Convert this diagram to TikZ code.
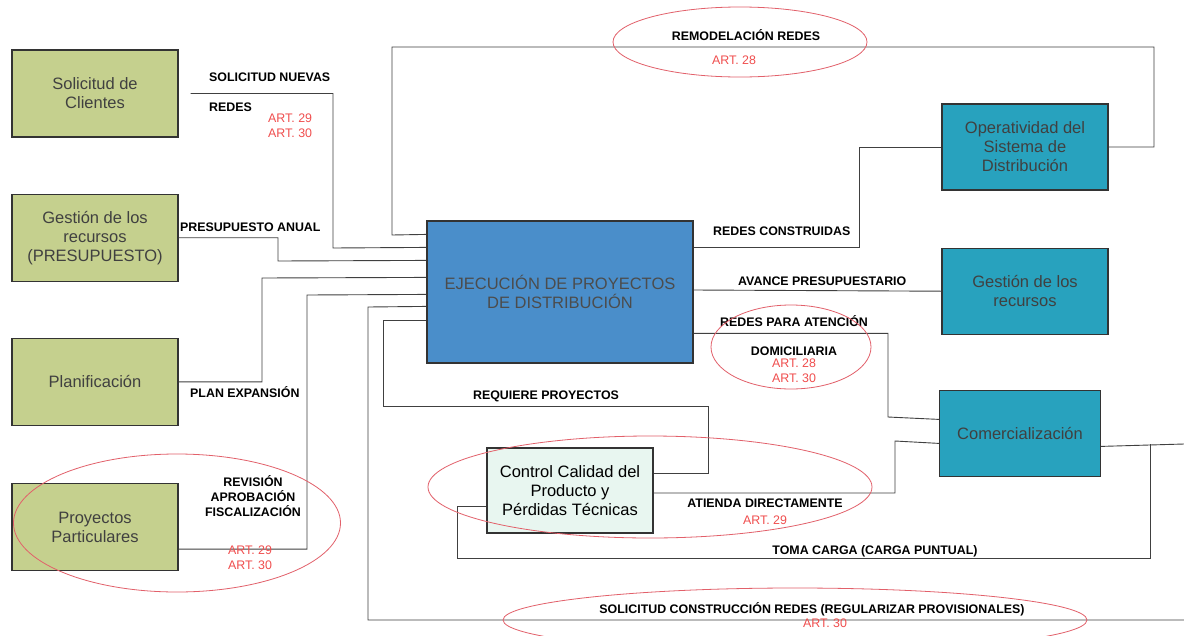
\documentclass[tikz,border=0pt]{standalone}
\usepackage{fontspec}
\setmainfont{Liberation Sans}
\usetikzlibrary{positioning, shapes.geometric}
\definecolor{olivebox}{RGB}{197,208,142}
\definecolor{bluebox}{RGB}{74,142,202}
\definecolor{tealbox}{RGB}{40,162,190}
\definecolor{mintbox}{RGB}{232,246,240}
\definecolor{artred}{RGB}{240,78,78}
\definecolor{ringred}{RGB}{226,96,106}

\begin{document}
\begin{tikzpicture}[x=1pt, y=-1pt,
    box/.style={rectangle, draw=black!80, line width=1.2pt,
                minimum width=166pt, minimum height=87pt, inner sep=2pt,
                font=\fontsize{16.5}{19}\selectfont, align=center, text=black!75},
    wire/.style={draw=black!75, line width=0.9pt},
    lbl/.style={font=\fontsize{12.4}{15}\selectfont\bfseries, inner sep=0pt, align=center},
    art/.style={font=\fontsize{12.4}{15}\selectfont, text=artred, inner sep=0pt, align=left},
    ring/.style={ellipse, draw=ringred, line width=0.8pt, inner sep=0pt},
]
\clip (0,0) rectangle (1184,635);
\fill[white] (0,0) rectangle (1184,635);

% left column
\node[box, fill=olivebox] (clientes) at (95,93.5) {Solicitud de\\Clientes};
\node[box, fill=olivebox, below=56pt of clientes] (gest) {Gestión de los\\recursos\\(PRESUPUESTO)};
\node[box, fill=olivebox, below=56pt of gest] (plan) {Planificación};
\node[box, fill=olivebox, below=57pt of plan] (proy) {Proyectos\\Particulares};

% centre
\node[box, fill=bluebox, minimum width=266pt, minimum height=142pt, text=black!70]
     (ejec) at (560,292) {EJECUCIÓN DE PROYECTOS\\DE DISTRIBUCIÓN};
\node[box, fill=mintbox, minimum height=85pt, text=black]
     (ctrl) at (570,490.5) {Control Calidad del\\Producto y\\Pérdidas Técnicas};

% right column
\node[box, fill=tealbox, minimum height=86pt] (oper) at (1025,147) {Operatividad del\\Sistema de\\Distribución};
\node[box, fill=tealbox, minimum height=86pt, below=57pt of oper] (gesr) {Gestión de los\\recursos};
\node[box, fill=tealbox, minimum width=161pt, minimum height=86pt,
      below=55pt of gesr, xshift=-5pt] (com) {Comercialización};

% entry / exit points on the main box
\coordinate (in1) at ([yshift=-14pt]ejec.north west);
\coordinate (in2) at ([yshift=-27pt]ejec.north west);
\coordinate (in3) at ([yshift=-40pt]ejec.north west);
\coordinate (in4) at ([yshift=-57pt]ejec.north west);
\coordinate (in5) at ([yshift=-74pt]ejec.north west);
\coordinate (in6) at ([yshift=-86pt]ejec.north west);
\coordinate (in7) at ([yshift=-100pt]ejec.north west);
\coordinate (out1) at ([yshift=-27pt]ejec.north east);
\coordinate (out2) at ([yshift=2pt]ejec.east);
\coordinate (out3) at ([yshift=-113pt]ejec.north east);
\coordinate (edgeS) at (1184,620);
\coordinate (edgeE) at (1184,444);
\coordinate (tap) at (1150,444);

% REMODELACION REDES
\draw[wire] (oper.east) -| (1154,47) -| (392,235) -- (in1);
% SOLICITUD NUEVAS REDES
\draw[wire] ([xshift=12pt]clientes.east) -| (333,248) -- (in2);
% PRESUPUESTO ANUAL
\draw[wire] (gest.east) -| (278,261) -- (in3);
% PLAN EXPANSION
\draw[wire] (plan.east) -| (262,278) -- (in4);
% REVISION / APROBACION / FISCALIZACION
\draw[wire] ([yshift=-22pt]proy.east) -| (307,295) -- (in5);
% SOLICITUD CONSTRUCCION REDES
\draw[wire] (edgeS) -| (368,307) -- (in6);
% REQUIERE PROYECTOS
\draw[wire] (in7) -| (383,406) -| (708,473) -- ([yshift=17.5pt]ctrl.east);
% REDES CONSTRUIDAS
\draw[wire] (out1) -| (859,147) -- (oper.west);
% AVANCE PRESUPUESTARIO
\draw[wire] (out2) -- (gesr.west);
% REDES PARA ATENCION DOMICILIARIA
\draw[wire] (out3) -| (888,417) -- ([yshift=14pt]com.west);
% ATIENDA DIRECTAMENTE
\draw[wire] ([yshift=-2.5pt]ctrl.east) -| (895,441) -- ([yshift=-10pt]com.west);
% TOMA CARGA
\draw[wire] ([yshift=-13pt]com.east) -- (edgeE);
\draw[wire] (tap) |- (457,558) |- ([yshift=-15.5pt]ctrl.west);

% labels
\node[lbl, anchor=west] (lsol) at (209,77) {SOLICITUD NUEVAS};
\node[lbl, anchor=west] (lred) at (209,107) {REDES};
\node[art, anchor=west] (a1) at (268,125.5) {ART. 29\\ART. 30};
\node[lbl, anchor=west] (lpre) at (180,227) {PRESUPUESTO ANUAL};
\node[lbl, anchor=west] (lplan) at (190,392) {PLAN EXPANSIÓN};
\node[lbl] (lrev) at (253,496) {REVISIÓN\\APROBACIÓN\\FISCALIZACIÓN};
\node[art] (a2) at (250,557.5) {ART. 29\\ART. 30};
\node[lbl] (lrem) at (746,35) {REMODELACIÓN REDES};
\node[art] (a3) at (734,60) {ART. 28};
\node[lbl, anchor=west] (lcon) at (713,231) {REDES CONSTRUIDAS};
\node[lbl, anchor=west] (lava) at (738,281) {AVANCE PRESUPUESTARIO};
\node[lbl, anchor=west] (late) at (720,321) {REDES PARA ATENCIÓN};
\node[lbl] (ldom) at (794,351) {DOMICILIARIA};
\node[art] (a4) at (794,370.5) {ART. 28\\ART. 30};
\node[lbl] (lreq) at (546,396) {REQUIERE PROYECTOS};
\node[lbl] (ldir) at (765,503) {ATIENDA DIRECTAMENTE};
\node[art] (a5) at (765,520) {ART. 29};
\node[lbl] (ltoma) at (875,551) {TOMA CARGA (CARGA PUNTUAL)};
\node[lbl] (lreg) at (812,609) {SOLICITUD CONSTRUCCIÓN REDES (REGULARIZAR PROVISIONALES)};
\node[art] (a6) at (825,623) {ART. 30};

% red rings
\node[ring, minimum width=254pt, minimum height=70pt] (r1) at (740,42) {};
\node[ring, minimum width=160pt, minimum height=84pt] (r2) at (791,347) {};
\node[ring, minimum width=444pt, minimum height=102pt] (r3) at (650,487) {};
\node[ring, minimum width=327pt, minimum height=138pt] (r4) at (177,523) {};
\node[ring, minimum width=584pt, minimum height=64pt] (r5) at (795,620) {};

\end{tikzpicture}
\end{document}
